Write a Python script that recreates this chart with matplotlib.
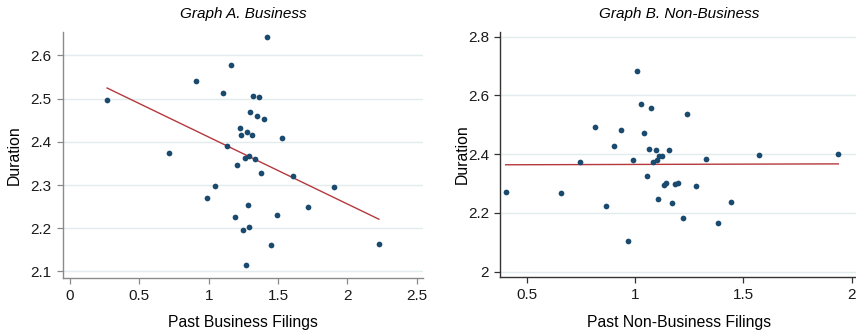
import numpy as np
import matplotlib
matplotlib.use("Agg")
import matplotlib.pyplot as plt

plt.rcParams['font.family'] = ['Liberation Sans', 'DejaVu Sans']

# Graph A: business filings
bus_x = [0.267, 1.422, 1.164, 0.906, 1.101, 1.320, 1.364, 1.301, 1.349, 1.395,
         1.222, 1.275, 1.236, 1.313, 1.530, 1.135, 0.711, 1.258, 1.292, 1.337,
         1.207, 1.376, 1.605, 1.906, 1.046, 0.988, 1.284, 1.713, 1.492, 1.188,
         1.292, 1.248, 1.451, 2.227, 1.267]
bus_y = [2.497, 2.642, 2.577, 2.542, 2.513, 2.507, 2.503, 2.470, 2.460, 2.452,
         2.433, 2.423, 2.416, 2.416, 2.410, 2.390, 2.375, 2.363, 2.367, 2.361,
         2.347, 2.328, 2.321, 2.296, 2.298, 2.271, 2.254, 2.249, 2.231, 2.226,
         2.203, 2.195, 2.160, 2.163, 2.115]
# fitted line as shown (intercept, slope)
bus_fit = [2.566, -0.155]

# Graph B: non-business filings
nonbus_x = [0.403, 0.660, 0.746, 0.814, 0.866, 0.903, 0.934, 0.966, 0.991, 1.011,
            1.029, 1.042, 1.054, 1.063, 1.074, 1.082, 1.095, 1.100, 1.106, 1.112,
            1.125, 1.134, 1.145, 1.157, 1.169, 1.183, 1.198, 1.222, 1.242, 1.283,
            1.328, 1.385, 1.443, 1.574, 1.938]
nonbus_y = [2.270, 2.268, 2.375, 2.491, 2.224, 2.428, 2.483, 2.103, 2.380, 2.684,
            2.572, 2.472, 2.326, 2.418, 2.557, 2.375, 2.414, 2.381, 2.247, 2.395,
            2.395, 2.294, 2.301, 2.415, 2.234, 2.297, 2.302, 2.184, 2.537, 2.292,
            2.383, 2.166, 2.237, 2.398, 2.401]
nonbus_fit = [2.3632, 0.002]

dot_color = '#1a4a6e'
fit_color = '#b5383d'
grid_color = '#e2ecee'

fig = plt.figure(figsize=(8.56, 3.34), dpi=100)
W, H = 856, 334


def make_ax(l, r, t, b):
    return fig.add_axes([l / W, 1 - b / H, (r - l) / W, (b - t) / H])


def style(ax, spine_color):
    for s in ['top', 'right']:
        ax.spines[s].set_visible(False)
    for s in ['left', 'bottom']:
        ax.spines[s].set_color(spine_color)
        ax.spines[s].set_linewidth(1.0)
    ax.tick_params(direction='out', length=4, width=0.9, color=spine_color,
                   labelsize=11, pad=4, labelcolor='#1a1a1a')
    ax.yaxis.grid(True, color=grid_color, linewidth=1.0)
    ax.set_axisbelow(True)


def draw(ax, x, y, fit):
    x = np.array(x)
    y = np.array(y)
    ax.scatter(x, y, s=17, color=dot_color, zorder=3, linewidths=0)
    xs = np.array([x.min(), x.max()])
    ax.plot(xs, fit[0] + fit[1] * xs, color=fit_color, linewidth=1.0, zorder=2)


axA = make_ax(62.7, 423, 31.7, 278.3)
style(axA, '#8a8a8a')
draw(axA, bus_x, bus_y, bus_fit)
axA.set_xlim(-0.053, 2.545)
axA.set_ylim(2.084, 2.655)
axA.set_xticks([0, 0.5, 1, 1.5, 2, 2.5])
axA.set_xticklabels(['0', '0.5', '1', '1.5', '2', '2.5'])
axA.set_yticks([2.1, 2.2, 2.3, 2.4, 2.5, 2.6])
axA.set_xlabel('Past Business Filings', fontsize=11.3, va='center')
axA.xaxis.set_label_coords(0.5, (278.3 - 322) / 246.6)
axA.set_ylabel('Duration', fontsize=11.3, va='center')
axA.yaxis.set_label_coords((14 - 62.7) / 360.3, 0.5)
axA.set_title('Graph A. Business', fontsize=11, style='italic', pad=10)

axB = make_ax(500, 858, 31.7, 277.3)
style(axB, '#333333')
draw(axB, nonbus_x, nonbus_y, nonbus_fit)
axB.set_xlim(0.377, 2.029)
axB.set_ylim(1.981, 2.817)
axB.set_xticks([0.5, 1, 1.5, 2])
axB.set_xticklabels(['0.5', '1', '1.5', '2'])
axB.set_yticks([2.0, 2.2, 2.4, 2.6, 2.8])
axB.set_yticklabels(['2', '2.2', '2.4', '2.6', '2.8'])
axB.set_xlabel('Past Non-Business Filings', fontsize=11.3, va='center')
axB.xaxis.set_label_coords(0.5, (277.3 - 322) / 245.6)
axB.set_ylabel('Duration', fontsize=11.3, va='center')
axB.yaxis.set_label_coords((462 - 500) / 358, 0.5)
axB.set_title('Graph B. Non-Business', fontsize=11, style='italic', pad=10)

fig.savefig('out.png', dpi=100)
